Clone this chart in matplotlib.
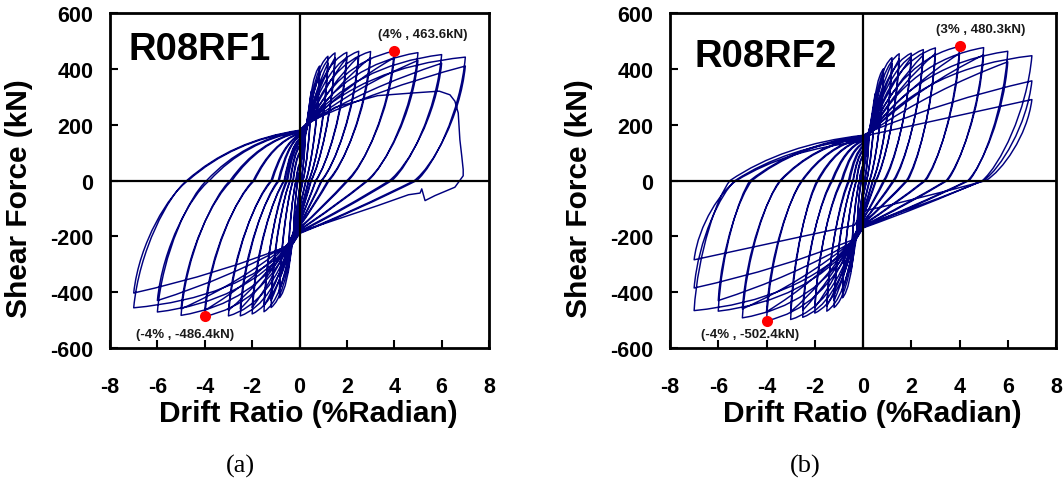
import matplotlib
matplotlib.use("Agg")
from matplotlib import pyplot as plt
from matplotlib.path import Path
from matplotlib.patches import PathPatch


plt.rcParams.update({
    "font.family": ["Liberation Sans", "DejaVu Sans"],
    "font.weight": "bold",
    "axes.unicode_minus": False,
})

LINE = "#00007f"
LWIDTH = 1.05

# ---- R08RF1 : one entry per load cycle ----
a_dp = [0.25, 0.25, 0.5, 0.5, 0.85, 0.85, 1.2, 1.2, 1.5, 1.5, 2.0, 2.0,
        2.5, 2.5, 3.0, 3.0, 4.0, 4.0, 5.0, 5.0, 6.0, 6.0, 7.0, 7.0]
a_fp = [190, 175, 320, 300, 410, 385, 445, 420, 457, 440, 459, 440,
        463, 445, 462, 440, 463.6, 440, 458, 430, 451, 420, 442, 410]
a_zp = [0.07, 0.06, 0.15, 0.14, 0.28, 0.26, 0.40, 0.38, 0.50, 0.48, 0.70, 0.68,
        0.95, 0.92, 1.25, 1.20, 2.06, 2.00, 2.90, 2.85, 3.90, 3.80, 4.95, 4.85]
a_nint = [-30, -28, -60, -55, -100, -95, -125, -120, -140, -135, -150, -148,
          -160, -158, -165, -163, -172, -170, -178, -176, -185, -182, -190, -188]
a_dn = [-0.25, -0.25, -0.5, -0.5, -0.85, -0.85, -1.2, -1.2, -1.5, -1.5, -2.0, -2.0,
        -2.5, -2.5, -3.0, -3.0, -4.0, -4.0, -5.0, -5.0, -6.0, -6.0, -7.0, -7.0]
a_fn = [-200, -185, -330, -310, -420, -395, -455, -430, -470, -450, -478, -455,
        -485, -460, -485, -465, -486.4, -465, -483, -460, -471, -430, -456, -403]
a_zn = [-0.07, -0.06, -0.15, -0.14, -0.28, -0.26, -0.40, -0.38, -0.55, -0.50, -0.65, -0.62,
        -0.90, -0.85, -1.20, -1.15, -1.95, -1.90, -2.93, -2.85, -3.92, -3.80, -4.76, -4.70]
a_pint = [30, 28, 60, 55, 100, 95, 125, 120, 140, 135, 150, 148,
          160, 158, 165, 163, 170, 168, 175, 173, 178, 176, 180, 178]
# last (failing) excursion of R08RF1
a_tail_x = [0.3, 1.5, 3.3, 4.7, 5.9, 6.35, 6.56, 6.7, 6.77, 6.85, 6.91, 6.91,
            6.56, 5.72, 5.30, 5.16, 5.09, 4.6, 3.3, 1.2, 0.0]
a_tail_y = [200, 262, 304, 313, 320, 307, 284, 242, 146, 87, 39, 17,
            -24, -54, -72, -30, -45, -51, -90, -150, -185]

# ---- R08RF2 ----
b_dp = [0.25, 0.25, 0.5, 0.5, 0.85, 0.85, 1.2, 1.2, 1.5, 1.5, 2.0, 2.0,
        2.5, 2.5, 3.0, 3.0, 4.0, 4.0, 5.0, 5.0, 6.0, 6.0, 7.0, 7.0, 7.0]
b_fp = [185, 170, 310, 290, 400, 380, 440, 420, 454, 435, 456, 440,
        469, 450, 475, 455, 480.3, 455, 476, 450, 463, 425, 447, 357, 290]
b_zp = [0.07, 0.06, 0.15, 0.14, 0.28, 0.26, 0.42, 0.40, 0.55, 0.52, 0.90, 0.85,
        1.30, 1.25, 1.85, 1.80, 2.60, 2.55, 3.50, 3.45, 4.40, 4.35, 4.95, 5.00, 5.10]
b_nint = [-30, -28, -60, -55, -95, -90, -115, -110, -130, -125, -140, -138,
          -150, -148, -155, -152, -160, -158, -165, -162, -168, -165, -170, -160, -110]
b_dn = [-0.25, -0.25, -0.5, -0.5, -0.85, -0.85, -1.2, -1.2, -1.5, -1.5, -2.0, -2.0,
        -2.5, -2.5, -3.0, -3.0, -4.0, -4.0, -5.0, -5.0, -6.0, -6.0, -7.0, -7.0, -7.0]
b_fn = [-195, -180, -325, -305, -420, -395, -455, -430, -468, -450, -475, -455,
        -490, -465, -498, -470, -502.4, -470, -492, -460, -468, -430, -466, -385, -284]
b_zn = [-0.07, -0.06, -0.15, -0.14, -0.28, -0.26, -0.42, -0.40, -0.60, -0.55, -0.90, -0.85,
        -1.30, -1.25, -1.90, -1.85, -2.54, -2.50, -3.44, -3.40, -4.68, -4.60, -5.51, -5.30, -5.24]
b_pint = [30, 28, 55, 52, 90, 88, 110, 105, 125, 120, 135, 132,
          145, 142, 150, 148, 155, 152, 158, 155, 160, 158, 162, 150, 140]

a_peaks = [(4.0, 463.6, "(4% , 463.6kN)", 5.2, 525), (-4.0, -486.4, "(-4% , -486.4kN)", -4.85, -550)]
b_peaks = [(4.0, 480.3, "(3% , 480.3kN)", 4.87, 543), (-4.0, -502.4, "(-4% , -502.4kN)", -4.68, -550)]

# loop shape (bezier control fractions) for 1st / 2nd / 3rd cycle at an amplitude
SHAPE_K = [0.85, 0.6, 0.5]
SHAPE_C = [0.35, 0.45, 0.5]


def hysteresis_path(dp, fp, zp, nint, dn, fn, zn, pint, piv, tail=None):
    xpv, dpos, dneg = piv
    verts = [(0.0, 0.0)]
    codes = [Path.MOVETO]

    def line(p):
        verts.append(p)
        codes.append(Path.LINETO)

    def quad(c, p):
        verts.extend([c, p])
        codes.extend([Path.CURVE3, Path.CURVE3])

    def cubic(c1, c2, p):
        verts.extend([c1, c2, p])
        codes.extend([Path.CURVE4] * 3)

    for i in range(len(dp)):
        rep = 0
        j = i
        while j > 0 and dp[j - 1] == dp[i]:
            rep += 1
            j -= 1
        k, c = SHAPE_K[rep], SHAPE_C[rep]

        # loading towards + peak
        y0 = verts[-1][1]
        if dp[i] <= 0.5:
            line((dp[i], fp[i]))
        else:
            py = max(y0 + dpos, y0 + (fp[i] - y0) * xpv / dp[i])
            line((xpv, py))
            quad((xpv + c * (dp[i] - xpv), py + k * (fp[i] - py)), (dp[i], fp[i]))
        # unloading from + peak
        w = dp[i] - zp[i]
        cubic((dp[i] - 0.1 * w, 0.55 * fp[i]), (zp[i] + 0.35 * w, 0.12 * fp[i]), (zp[i], 0))
        quad((0.5 * zp[i], 0.55 * nint[i]), (0, nint[i]))

        # loading towards - peak
        y0 = nint[i]
        if dn[i] >= -0.5:
            line((dn[i], fn[i]))
        else:
            py = min(y0 - dneg, y0 + (fn[i] - y0) * xpv / -dn[i])
            line((-xpv, py))
            quad((-xpv + c * (dn[i] + xpv), py + k * (fn[i] - py)), (dn[i], fn[i]))
        # unloading from - peak
        w = zn[i] - dn[i]
        cubic((dn[i] + 0.1 * w, 0.55 * fn[i]), (zn[i] - 0.35 * w, 0.12 * fn[i]), (zn[i], 0))
        quad((0.6 * zn[i], 0.8 * pint[i]), (0, pint[i]))

    if tail is not None:
        for x, y in zip(*tail):
            line((x, y))
    return Path(verts, codes)


def draw_panel(ax, path, name, name_xy, peaks, caption, cap_x, ylab_x):
    ax.add_patch(PathPatch(path, fill=False, edgecolor=LINE, lw=LWIDTH,
                           joinstyle="round", zorder=2))
    ax.axhline(0, color="k", lw=1.6, zorder=3)
    ax.axvline(0, color="k", lw=1.6, zorder=3)

    for px, py, label, tx, ty in peaks:
        ax.plot(px, py, "o", color="#ff0000", markersize=8, mec="none", zorder=4)
        ax.text(tx, ty, label, fontsize=9.5, fontweight="bold", ha="center",
                va="center", color="#1a1a1a", zorder=5)

    ax.text(name_xy[0], name_xy[1], name, fontsize=27.5, fontweight="bold",
            ha="left", va="center")

    ax.set_xlim(-8, 8)
    ax.set_ylim(-600, 600)
    ax.set_xticks(range(-8, 9, 2))
    ax.set_yticks(range(-600, 601, 200))
    ax.tick_params(axis="x", direction="in", length=6, width=1.5, pad=20,
                   labelsize=15.5, top=False)
    ax.tick_params(axis="y", direction="in", length=6, width=1.5, pad=12,
                   labelsize=15.5, right=False)
    for lab in ax.get_xticklabels() + ax.get_yticklabels():
        lab.set_fontweight("bold")
    for sp in ax.spines.values():
        sp.set_linewidth(2)

    ax.set_xlabel("Drift Ratio (%Radian)", fontsize=21.5, fontweight="bold")
    ax.set_ylabel("Shear Force (kN)", fontsize=21.5, fontweight="bold")
    ax.xaxis.set_label_coords(0.523, -0.152)
    ax.yaxis.set_label_coords(ylab_x, 0.45)

    ax.text(cap_x, -0.352, caption, transform=ax.transAxes, fontsize=19,
            family="Liberation Serif", fontweight="normal", ha="center", va="center")


fig = plt.figure(figsize=(10.64, 4.81), dpi=100)
ax_a = fig.add_axes([0.1034, 0.2744, 0.3562, 0.6965])
ax_b = fig.add_axes([0.6297, 0.2744, 0.3628, 0.6965])

path_a = hysteresis_path(a_dp, a_fp, a_zp, a_nint, a_dn, a_fn, a_zn, a_pint,
                         (0.3, 25, 40), tail=(a_tail_x, a_tail_y))
path_b = hysteresis_path(b_dp, b_fp, b_zp, b_nint, b_dn, b_fn, b_zn, b_pint,
                         (0.35, 15, 50))

draw_panel(ax_a, path_a, "R08RF1", (-7.2, 471), a_peaks, "(a)", 0.344, -0.203)
draw_panel(ax_b, path_b, "R08RF2", (-7.0, 446), b_peaks, "(b)", 0.35, -0.199)

fig.savefig("out.png", dpi=100)
